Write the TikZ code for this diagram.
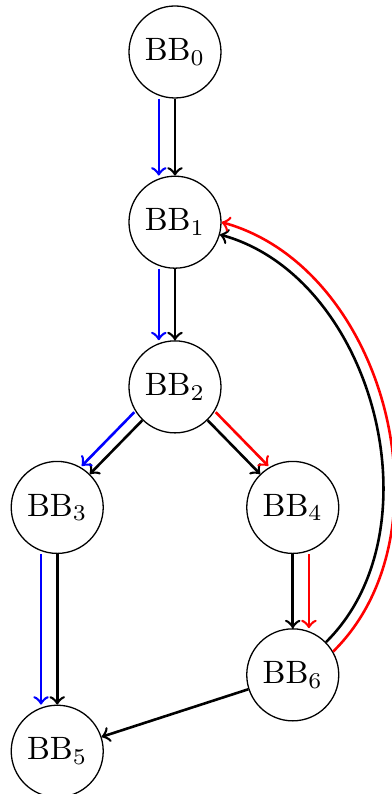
\documentclass[tikz,border=0pt]{standalone}
\begin{document}
\begin{tikzpicture}
        [bb/.style={circle,draw,minimum size=1cm,inner sep=0pt},
        edge/.style={thick, black, ->},
        bluepath/.style={thick, blue, ->},
        redpath/.style={thick, red, ->}]

        \useasboundingbox (-1.902,0.565) rectangle (2.348,-8.065);

        \node[bb] (b0) at (0,0) {BB$_0$};
        \node[bb] (b1) at (0,-1.85) {BB$_1$};
        \node[bb] (b2) at (0,-3.64) {BB$_2$};
        \node[bb] (b3) at (-1.28,-4.95) {BB$_3$};
        \node[bb] (b4) at (1.28,-4.95) {BB$_4$};
        \node[bb] (b6) at (1.28,-6.77) {BB$_6$};
        \node[bb] (b5) at (-1.28,-7.60) {BB$_5$};

        % control flow edges (black)
        \draw[edge] (b0) -- (b1);
        \draw[edge] (b1) -- (b2);
        \draw[edge] (b2) -- (b3);
        \draw[edge] (b2) -- (b4);
        \draw[edge] (b3) -- (b5);
        \draw[edge] (b4) -- (b6);
        \draw[edge] (b6) -- (b5);
        \draw[edge] (b6) to[bend right=60, looseness=0.97] (b1);

        % blue edges, shifted to the left
        \draw[bluepath, transform canvas={xshift=-5pt}] (b0) -- (b1);
        \draw[bluepath, transform canvas={xshift=-5pt}] (b1) -- (b2);
        \draw[bluepath, transform canvas={xshift=-2.5pt, yshift=2.5pt}] (b2) -- (b3);
        \draw[bluepath, transform canvas={xshift=-5pt}] (b3) -- (b5);

        % red edges, shifted to the right
        \draw[redpath, transform canvas={xshift=2.5pt, yshift=2.5pt}] (b2) -- (b4);
        \draw[redpath, transform canvas={xshift=5pt}] (b4) -- (b6);
        \draw[redpath] (b6.30) to[bend right=60, looseness=0.98] (b1.east);

\end{tikzpicture}
\end{document}
